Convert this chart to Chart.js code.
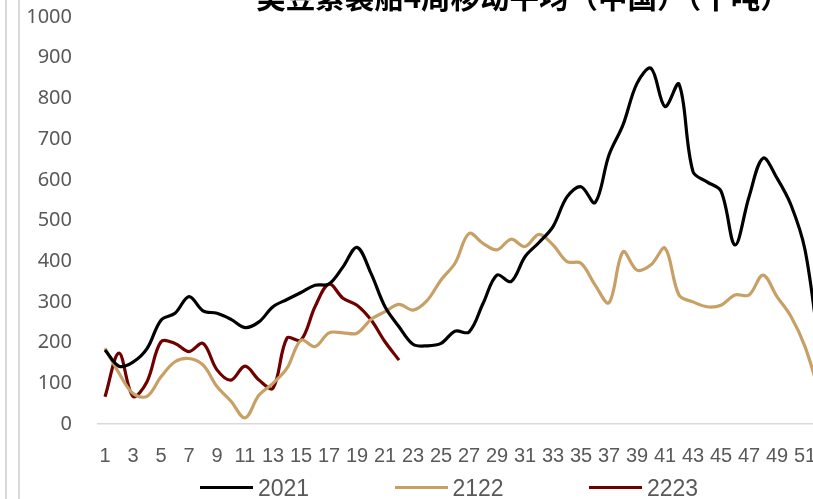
<!DOCTYPE html>
<html>
<head>
<meta charset="utf-8">
<script src="https://cdn.jsdelivr.net/npm/chart.js@4.4.1/dist/chart.umd.min.js"></script>
<style>
  html, body { margin:0; padding:0; background:#fff; overflow:hidden; width:813px; height:499px; }
  #wrap { position:absolute; left:0; top:0; width:840px; height:499px; }
  #title { position:absolute; left:6px; width:1034px; top:-20px; text-align:center; font-family:"Noto Sans CJK SC", sans-serif; font-weight:bold; font-size:29.5px; line-height:30px; color:#000; white-space:nowrap; }
  .vline { position:absolute; top:0; width:2px; height:499px; background:#D9D9D9; }
  #legend { position:absolute; left:0; top:476px; height:24px; }
  .li { position:absolute; top:0; height:24px; font-family:"Liberation Sans Narrow", "Liberation Sans", sans-serif; font-size:23px; line-height:24px; color:#595959; }
  .li span.sw { position:absolute; top:10px; height:3px; width:53px; left:0; }
  .li span.tx { position:absolute; left:58px; top:0; }
</style>
</head>
<body>
<div class="vline" style="left:5px"></div>
<div class="vline" style="left:18px"></div>
<div id="wrap"><canvas id="c" width="840" height="499"></canvas></div>
<div id="title">美豆累装船4周移动平均（中国）（千吨）</div>
<div id="legend"></div>
<script>
const weeks = ['1','2','3','4','5','6','7','8','9','10','11','12','13','14','15','16','17','18','19','20','21','22','23','24','25','26','27','28','29','30','31','32','33','34','35','36','37','38','39','40','41','42','43','44','45','46','47','48','49','50','51','52'];
const seriesNames = ['2021', '2122', '2223'];
const s2021 = [182,142,152,185,255,272,313,278,272,257,237,251,288,306,323,341,344,386,434,370,288,239,196,192,198,228,226,296,366,350,411,446,485,558,583,544,661,735,837,874,780,835,620,595,572,440,558,653,604,538,428,190];
const s2122 = [186,125,75,68,116,153,161,145,92,56,15,71,100,137,206,190,224,224,223,257,276,294,280,303,354,395,468,444,428,454,436,466,440,399,395,342,298,423,378,391,432,317,300,288,292,317,317,366,313,264,190,80];
const s2223 = [67,174,68,104,202,198,178,198,133,108,142,108,88,211,206,288,344,309,292,256,202,157];
const yTicks = [0,100,200,300,400,500,600,700,800,900,1000];
const colors = ['#000000', '#C8A066', '#700000'];

const seriesData = [s2021, s2122, s2223];
const datasets = seriesNames.map((n, i) => ({
  label: n,
  data: seriesData[i],
  borderColor: colors[i],
  backgroundColor: colors[i],
  borderWidth: 3.2,
  pointRadius: 0,
  tension: 0.35,
  fill: false
}));

const chart = new Chart(document.getElementById('c'), {
  type: 'line',
  data: { labels: weeks, datasets: datasets },
  options: {
    responsive: false,
    animation: false,
    layout: { padding: { top: 17, right: 14, left: 0, bottom: 0 } },
    plugins: { legend: { display: false }, title: { display: false }, tooltip: { enabled: false } },
    scales: {
      x: {
        type: 'category',
        offset: true,
        grid: { display: false, drawTicks: false },
        border: { display: true, color: '#D9D9D9', width: 1.5 },
        ticks: {
          autoSkip: false, maxRotation: 0, minRotation: 0, padding: 20,
          color: '#595959',
          font: { family: '"Liberation Sans Narrow", "Liberation Sans", sans-serif', size: 20 },
          callback: function(v, i) { return i % 2 === 0 ? weeks[i] : ''; }
        },
        afterFit: function(s) { s.height = 75; }
      },
      y: {
        min: 0, max: 1000,
        afterBuildTicks: function(s) { s.ticks = yTicks.map(v => ({ value: v })); },
        grid: { display: false, drawTicks: true, tickLength: 26 },
        border: { display: false },
        ticks: {
          padding: 0, color: '#595959',
          font: { family: '"Noto Sans", sans-serif', size: 20 },
          callback: function(v) { return String(v); }
        },
        afterFit: function(s) { s.width = 98; }
      }
    }
  }
});

// HTML legend built from the chart's datasets
const legend = document.getElementById('legend');
const startX = 200, pitch = 194.5;
chart.data.datasets.forEach((ds, i) => {
  const d = document.createElement('div');
  d.className = 'li';
  d.style.left = (startX + i * pitch) + 'px';
  d.innerHTML = '<span class="sw" style="background:' + ds.borderColor + '"></span><span class="tx">' + ds.label + '</span>';
  legend.appendChild(d);
});
</script>
</body>
</html>
